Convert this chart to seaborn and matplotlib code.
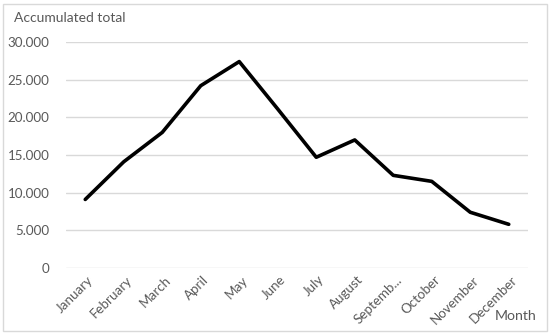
import matplotlib
matplotlib.use('Agg')
import matplotlib.pyplot as plt
import matplotlib.transforms as mtransforms
import seaborn as sns
import pandas as pd
from matplotlib.patches import Rectangle
from matplotlib.ticker import FuncFormatter

months = ['January', 'February', 'March', 'April', 'May', 'June', 'July',
          'August', 'Septemb...', 'October', 'November', 'December']
totals = [9100, 14100, 18000, 24200, 27400, 21100, 14700, 17000, 12300, 11500, 7400, 5800]

sns.set_theme(style='white')
plt.rcParams['font.family'] = ['Lato', 'DejaVu Sans']

df = pd.DataFrame({'month': range(len(months)), 'total': totals})

fig = plt.figure(figsize=(5.5, 3.34), dpi=100)
ax = fig.add_axes([66 / 550, 1 - 268 / 334, (528 - 66) / 550, (268 - 42) / 334])

sns.lineplot(data=df, x='month', y='total', color='black', linewidth=2.6, ax=ax)

grey = '#595959'
ax.set_ylim(0, 30000)
ax.set_yticks(range(0, 30001, 5000))
ax.yaxis.set_major_formatter(FuncFormatter(lambda v, p: f'{int(v):,}'.replace(',', '.')))
ax.set_xlim(-0.5, 11.5)
ax.set_xticks(range(len(months)))
ax.set_xticklabels(months, rotation=45, ha='right', rotation_mode='anchor')
ax.tick_params(axis='both', colors=grey, labelsize=9.6, length=0)
ax.tick_params(axis='x', pad=4)
ax.tick_params(axis='y', pad=12)
ax.grid(axis='y', color='#d9d9d9', linewidth=1)
for s in ax.spines.values():
    s.set_visible(False)
ax.set_xlabel('')
ax.set_ylabel('')

# shift month labels a little right so their ends sit under the points
shift = mtransforms.ScaledTranslation(2 / 100, 0, fig.dpi_scale_trans)
for lbl in ax.get_xticklabels():
    lbl.set_transform(lbl.get_transform() + shift)

fig.text(14 / 550, 1 - 18 / 334, 'Accumulated total', color=grey, fontsize=10,
         ha='left', va='center')
fig.text(537 / 550, 1 - 316 / 334, 'Month', color=grey, fontsize=10.2,
         ha='right', va='center')

fig.patches.append(Rectangle((3 / 550, 3 / 334), 544 / 550, 327 / 334, transform=fig.transFigure,
                             fill=False, edgecolor='#d9d9d9', linewidth=1))

fig.savefig('out.png', dpi=100)
